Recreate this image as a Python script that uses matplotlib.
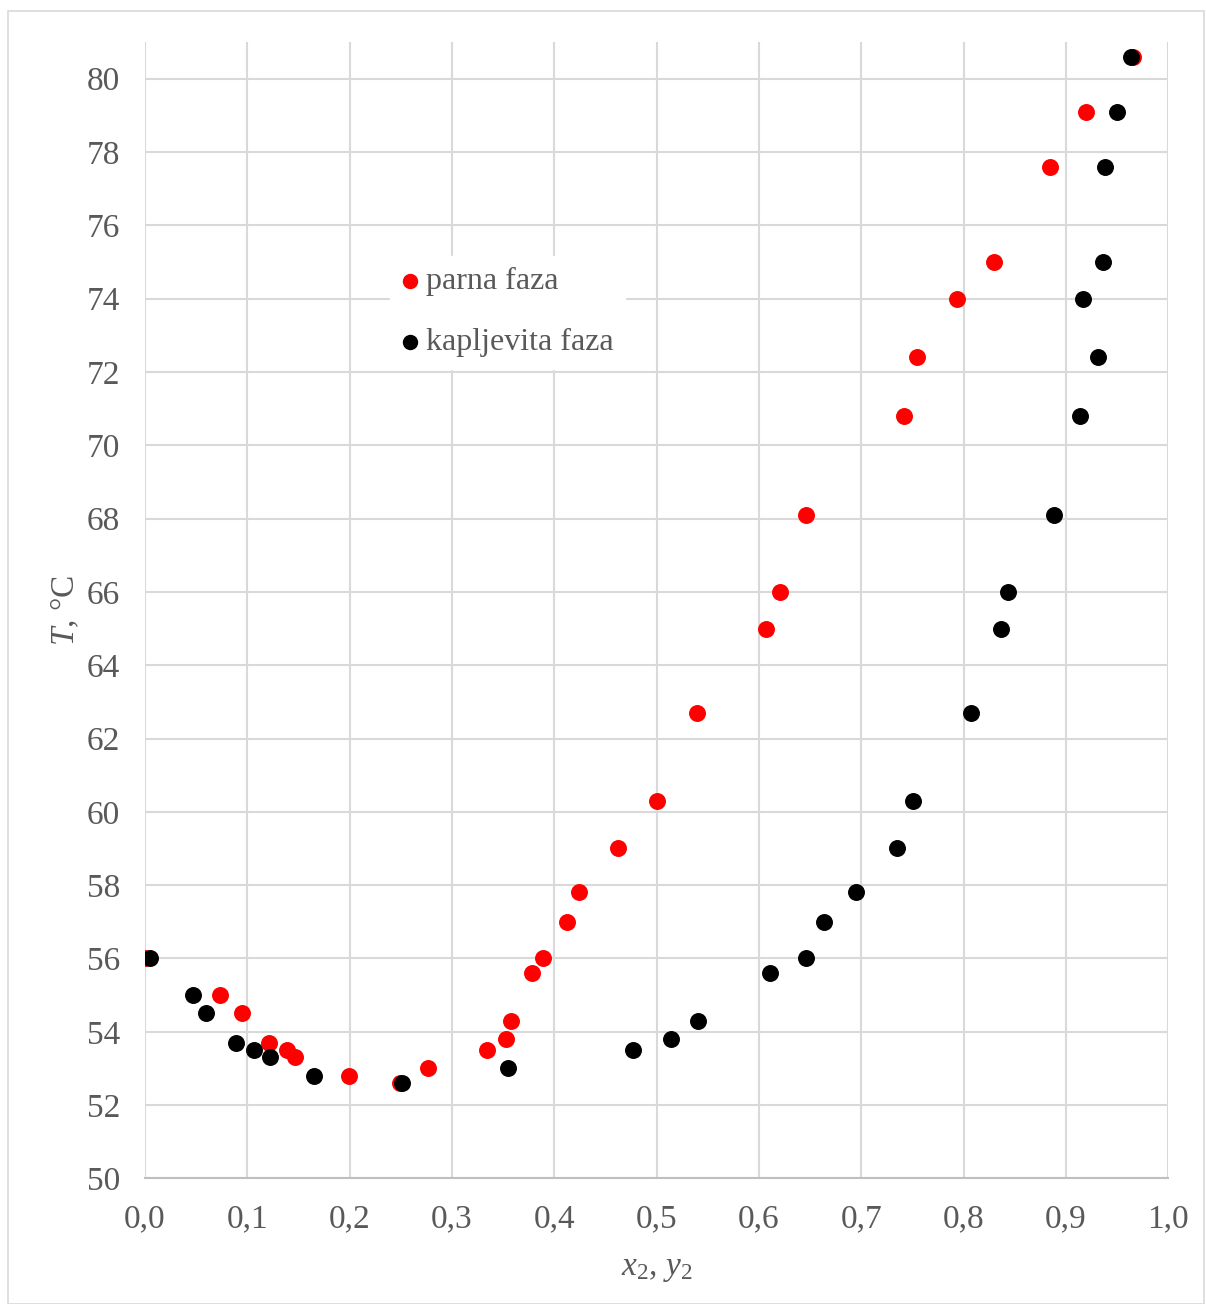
import matplotlib.pyplot as plt
from matplotlib.patches import Rectangle
from matplotlib.ticker import FuncFormatter

plt.rcParams["font.family"] = ["Liberation Serif", "DejaVu Serif"]
plt.rcParams["mathtext.fontset"] = "custom"
plt.rcParams["mathtext.rm"] = "Liberation Serif"
plt.rcParams["mathtext.it"] = "Liberation Serif:italic"

# parna faza (vapour)
y_vap = [0.0, 0.073, 0.095, 0.121, 0.139, 0.147, 0.199, 0.249, 0.277, 0.334,
         0.353, 0.358, 0.378, 0.389, 0.412, 0.424, 0.462, 0.500, 0.539, 0.607,
         0.621, 0.646, 0.742, 0.754, 0.794, 0.830, 0.884, 0.920, 0.966]
# kapljevita faza (liquid)
x_liq = [0.005, 0.047, 0.060, 0.089, 0.107, 0.122, 0.165, 0.251, 0.355, 0.477,
         0.514, 0.540, 0.611, 0.646, 0.664, 0.695, 0.735, 0.751, 0.807, 0.837,
         0.843, 0.888, 0.914, 0.931, 0.917, 0.936, 0.938, 0.950, 0.964]
temps = [56.0, 55.0, 54.5, 53.7, 53.5, 53.3, 52.8, 52.6, 53.0, 53.5,
         53.8, 54.3, 55.6, 56.0, 57.0, 57.8, 59.0, 60.3, 62.7, 65.0,
         66.0, 68.1, 70.8, 72.4, 74.0, 75.0, 77.6, 79.1, 80.6]

grey = "#595959"
fig = plt.figure(figsize=(12.06, 13.04), dpi=100)
fig.patches.append(Rectangle((8 / 1206, 0), 1196 / 1206, 1 - 11 / 1304,
                             transform=fig.transFigure, fill=False,
                             edgecolor="#d9d9d9", linewidth=1.2))
ax = fig.add_axes([0.1202, 0.0963, 0.8485, 0.8715])

ax.scatter(y_vap, temps, s=125, color="#ff0000", label="parna faza", zorder=3)
ax.scatter(x_liq, temps, s=125, color="#000000", label="kapljevita faza", zorder=4)

ax.set_xlim(0, 1.0)
ax.set_ylim(50, 81)
ax.set_xticks([i / 10 for i in range(11)])
ax.set_yticks(range(50, 81, 2))
ax.xaxis.set_major_formatter(FuncFormatter(lambda v, p: f"{v:.1f}".replace(".", ",")))
ax.grid(True, color="#d9d9d9", linewidth=1.5, zorder=0)
ax.set_axisbelow(True)
for s in ["top", "right", "left"]:
    ax.spines[s].set_visible(False)
ax.spines["bottom"].set_color("#bfbfbf")
ax.spines["bottom"].set_linewidth(1.5)
ax.tick_params(length=0, labelsize=24, labelcolor=grey, pad=18)

ax.set_xlabel("$x$$_2$, $y$$_2$", fontsize=24, color=grey, labelpad=14)
ax.set_ylabel("$T$, °C", fontsize=24, color=grey, labelpad=4)

leg = ax.legend(loc="upper left", bbox_to_anchor=(0.239, 0.812), borderaxespad=0,
                fontsize=23, frameon=True, framealpha=1, edgecolor="white",
                fancybox=False, handlelength=0.6, handletextpad=0.2,
                markerscale=0.9, borderpad=0.35, labelspacing=1.0,
                labelcolor=grey)

plt.savefig("out.png", dpi=100)
